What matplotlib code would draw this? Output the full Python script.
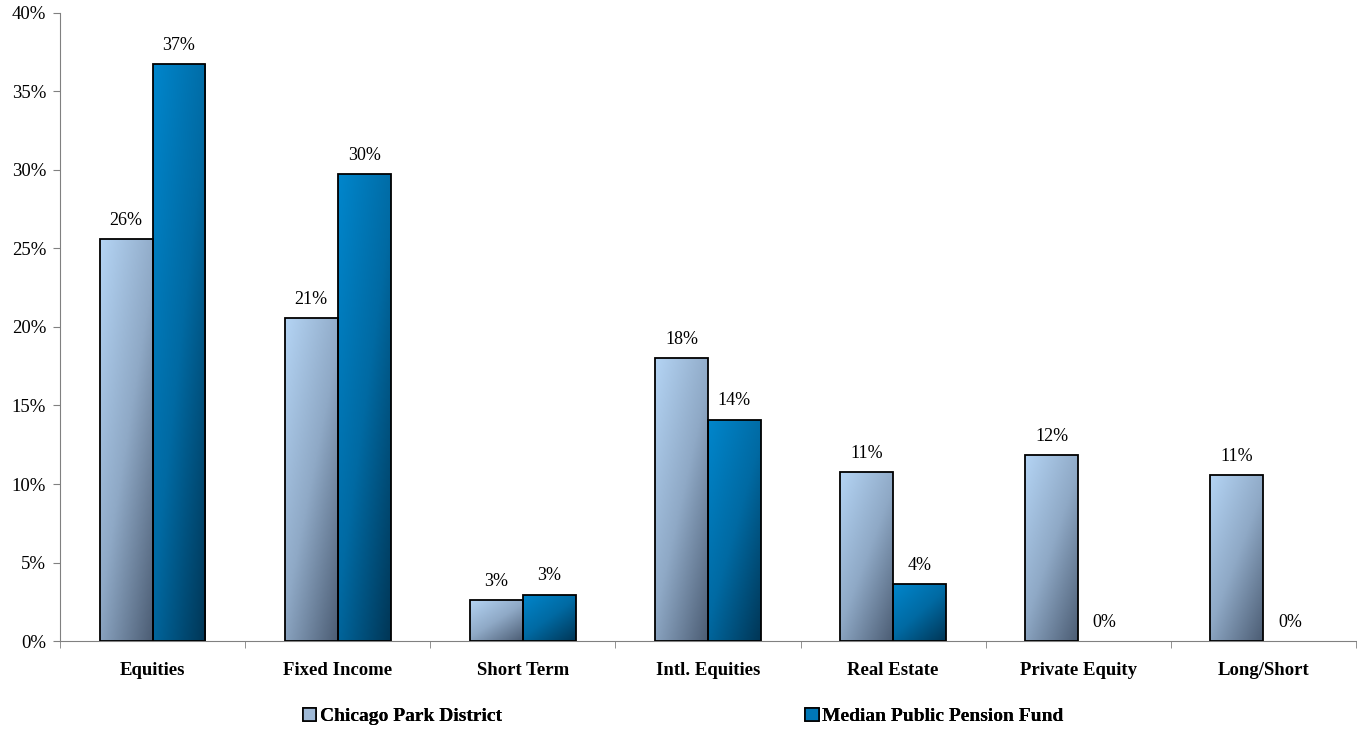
import numpy as np
import matplotlib.pyplot as plt
from matplotlib.colors import LinearSegmentedColormap
from matplotlib.patches import Patch
from matplotlib.ticker import FuncFormatter

categories = ["Equities", "Fixed Income", "Short Term", "Intl. Equities",
              "Real Estate", "Private Equity", "Long/Short"]
park = [25.6, 20.55, 2.6, 18.0, 10.75, 11.85, 10.55]
median = [36.75, 29.75, 2.95, 14.1, 3.6, 0.0, 0.0]
series_names = ["Chicago Park District", "Median Public Pension Fund"]

plt.rcParams['font.family'] = ['Liberation Serif', 'DejaVu Serif']

cmap_park = LinearSegmentedColormap.from_list("park", ["#b4d4f4", "#8fa9c6", "#4c5d74"])
cmap_med = LinearSegmentedColormap.from_list("med", ["#0086cc", "#006aa3", "#003656"])

fig = plt.figure(figsize=(13.57, 7.29), dpi=100)
ax = fig.add_axes([0.0442, 0.1207, 0.955, 0.8615])

x = np.arange(len(categories))
w = 0.286

# gradient: light at top-left, dark at bottom-right
gx, gy = np.meshgrid(np.linspace(0, 1, 60), np.linspace(0, 1, 200))
grad = 0.45 * gx + 0.55 * gy


def draw_bars(xs, vals, cmap):
    bars = ax.bar(xs, vals, w, facecolor='none', edgecolor='black', linewidth=1.3, zorder=3)
    for b in bars:
        h = b.get_height()
        if h <= 0:
            b.set_visible(False)
            continue
        x0 = b.get_x()
        im = ax.imshow(grad, cmap=cmap, extent=[x0, x0 + w, 0, h], origin='upper',
                       aspect='auto', zorder=2, interpolation='bilinear')
        im.set_clip_path(b)
    return bars


draw_bars(x - w / 2, np.array(park) / 100, cmap_park)
draw_bars(x + w / 2, np.array(median) / 100, cmap_med)

for xi, v in zip(x - w / 2, park):
    ax.text(xi, v / 100 + 0.0065, f"{v:.0f}%", ha='center', va='bottom', fontsize=13)
for xi, v in zip(x + w / 2, median):
    ax.text(xi, v / 100 + 0.0065, f"{v:.0f}%", ha='center', va='bottom', fontsize=13)

ax.set_xlim(-0.5, len(categories) - 0.5)
ax.set_ylim(0, 0.40)
ax.set_yticks(np.arange(0, 0.401, 0.05))
ax.yaxis.set_major_formatter(FuncFormatter(lambda v, p: f"{v * 100:.0f}%"))
ax.set_xticks(x)
ax.set_xticklabels(categories, fontweight='bold', fontsize=13.5)
ax.set_xticks(np.arange(-0.5, len(categories), 1), minor=True)
ax.tick_params(axis='x', which='major', length=0, pad=15)
ax.tick_params(axis='x', which='minor', length=5, color='#808080')
ax.tick_params(axis='y', labelsize=13.5, length=5, color='#808080', pad=5)

for s in ['top', 'right']:
    ax.spines[s].set_visible(False)
for s in ['left', 'bottom']:
    ax.spines[s].set_color('#808080')

handles = [Patch(facecolor='#9fb9d6', edgecolor='black', linewidth=1.2),
           Patch(facecolor='#0077b6', edgecolor='black', linewidth=1.2)]
anchors = [(0.2232, 0.017), (0.5932, 0.017)]
for hnd, name, anc in zip(handles, series_names, anchors):
    leg = fig.legend([hnd], [name], loc='center left', bbox_to_anchor=anc,
                     frameon=False, prop={'weight': 'bold', 'size': 14},
                     handlelength=0.7, handleheight=0.7, handletextpad=0.2,
                     borderpad=0, borderaxespad=0)
    fig.add_artist(leg)

fig.savefig("out.png", dpi=100)
